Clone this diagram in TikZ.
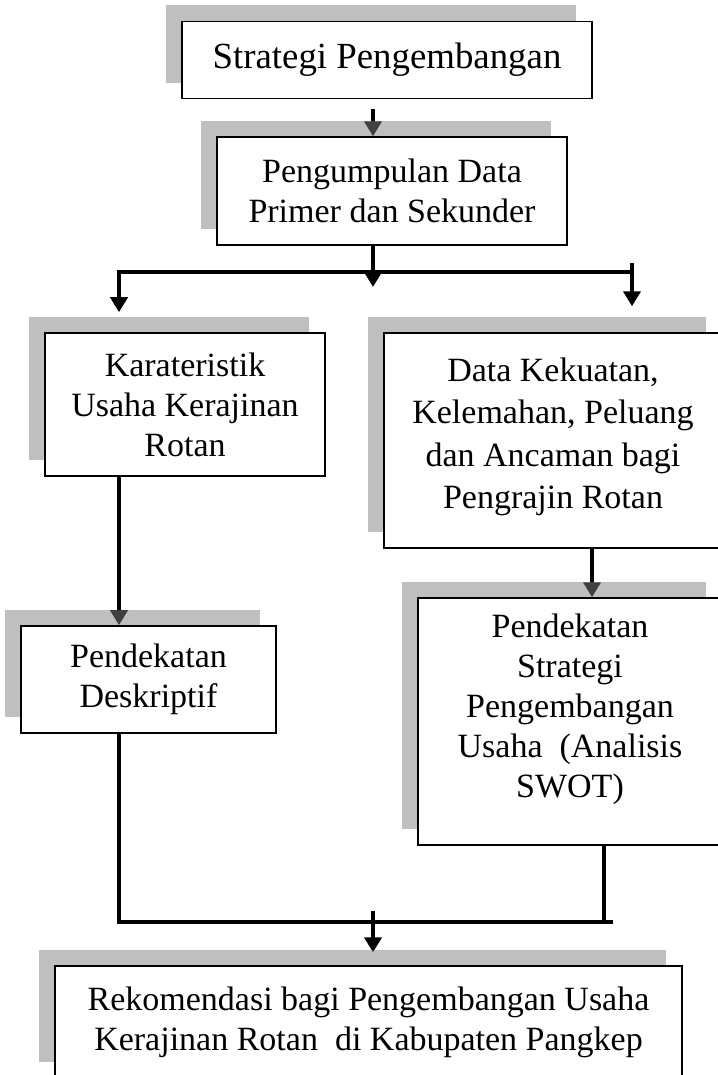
\documentclass[tikz,border=0pt]{standalone}
\usepackage{fontspec}
\setmainfont{Liberation Serif}
\usetikzlibrary{calc,backgrounds,shadows,arrows.meta}

\begin{document}
\begin{tikzpicture}[x=0.353pt,y=-0.353pt]

\tikzset{boxnode/.style={draw,fill=white,line width=0.5pt,inner sep=0pt,align=center,font=\fontsize{12}{14.1}\selectfont,
general shadow={fill=black!50,fill opacity=0.5,shadow xshift=-5.65pt,shadow yshift=5.65pt}},
conn/.style={line width=1.7pt},
arr/.style={conn,-{Triangle[length=5.3pt,width=6pt]}}}

\useasboundingbox (0,0) rectangle (718,1075);

% Boxes
\node[boxnode,minimum width=144.7pt,minimum height=27.2pt,font=\fontsize{13}{15}\selectfont] (strat) at (387,60) {Strategi Pengembangan};
\node[boxnode,minimum width=123.6pt,minimum height=38.1pt] (dataCollect) at (392,191) {Pengumpulan Data\\Primer dan Sekunder};
\node[boxnode,minimum width=98.8pt,minimum height=50.5pt] (karakter) at (185,404.5) {Karateristik\\Usaha Kerajinan\\Rotan};
\node[boxnode,minimum width=119.3pt,minimum height=75.9pt,font=\fontsize{12}{15}\selectfont] (swotData) at (553,440.5) {Data Kekuatan,\\Kelemahan, Peluang\\dan Ancaman bagi\\Pengrajin Rotan\\[-10pt]};
\node[boxnode,minimum width=107.3pt,minimum height=87.2pt] (swotApproach) at (570,721.5) {Pendekatan\\Strategi\\Pengembangan\\Usaha \ (Analisis\\SWOT)\\[-3pt]};
\node[boxnode,minimum width=90pt,minimum height=37.8pt] (deskriptif) at (148.5,679.5) {Pendekatan\\Deskriptif};
\node[boxnode,minimum width=221.3pt,minimum height=39.5pt] (rekom) at (368.5,1022) {Rekomendasi bagi Pengembangan Usaha\\Kerajinan Rotan \ di Kabupaten Pangkep};

% Legs and bars
\coordinate (trunk) at (373,0);
\coordinate (leftLeg) at (119,0);
\coordinate (rightLeg) at (632,0);
\coordinate (rightStem) at (592,0);
\coordinate (swotLeg) at (604,0);
\coordinate (upBar) at (0,272);
\coordinate (lowBar) at (0,922);

% Edges (behind the shadows)
\begin{scope}[on background layer]
\draw[arr] ($(strat.south -| trunk)+(0,10)$) -- (dataCollect.north -| trunk);
\draw[arr] (dataCollect.south -| trunk) -- ($(upBar -| trunk)+(0,15)$);
\draw[arr] (upBar -| rightLeg) -- (upBar -| leftLeg) -- ($(karakter.north -| leftLeg)+(0,-20)$);
\draw[arr] ($(upBar -| rightLeg)+(0,-9)$) -- ($(swotData.north -| rightLeg)+(0,-26)$);
\draw[arr] (karakter.south -| leftLeg) -- (deskriptif.north -| leftLeg);
\draw[arr] (swotData.south -| rightStem) -- (swotApproach.north -| rightStem);
\draw[conn] (deskriptif.south -| leftLeg) -- (lowBar -| leftLeg) -- ($(lowBar -| swotLeg)+(9,0)$);
\draw[conn] (swotApproach.south -| swotLeg) -- (lowBar -| swotLeg);
\draw[arr] ($(lowBar -| trunk)+(0,-11)$) -- ($(rekom.north -| trunk)+(0,-13)$);
\end{scope}

\end{tikzpicture}
\end{document}
